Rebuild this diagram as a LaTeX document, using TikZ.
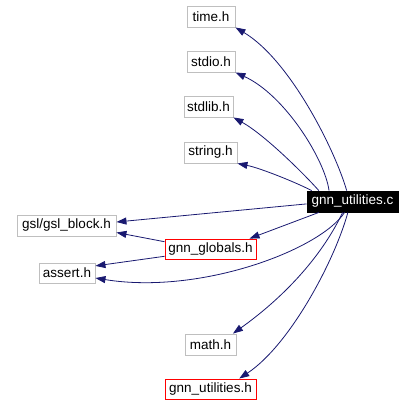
\documentclass[tikz,border=0pt]{standalone}
\usepackage{fontspec}
\setmainfont{Liberation Sans}
\usetikzlibrary{arrows.meta}
\definecolor{depblue}{HTML}{191970}
\definecolor{boxgrey}{HTML}{BFBFBF}
\definecolor{boxred}{HTML}{FF0000}

\begin{document}
\begin{tikzpicture}[x=1pt,y=-1pt]
    \tikzstyle{hdr}=[draw=boxgrey,line width=0.9pt,minimum height=21pt,inner sep=0pt,font=\fontsize{13.5}{16}\selectfont]
    \tikzstyle{own}=[hdr,draw=boxred,minimum width=91pt,minimum height=20pt]
    \tikzstyle{dep}=[depblue,line width=0.8pt,-{Triangle[length=10pt,width=7pt]}]
    \useasboundingbox (0,0) rectangle (415,407);
    \node[hdr,minimum width=48pt] (time) at (211,16.5) {time.h};
    \node[hdr,minimum width=48pt] (stdio) at (211,61.5) {stdio.h};
    \node[hdr,minimum width=49pt] (stdlib) at (208.5,106.5) {stdlib.h};
    \node[hdr,minimum width=53pt] (string) at (210.5,152.5) {string.h};
    \node[hdr,draw=black,fill=black,text=white,minimum width=91pt] (src) at (352.5,201.5) {gnn\_utilities.c};
    \node[hdr,minimum width=99pt] (gsl) at (66.5,225.5) {gsl/gsl\_block.h};
    \node[own] (glob) at (210.5,249) {gnn\_globals.h};
    \node[hdr,minimum width=56pt,minimum height=20pt] (assert) at (67,273) {assert.h};
    \node[hdr,minimum width=51pt] (math) at (210.5,344.5) {math.h};
    \node[own] (uh) at (210.5,389) {gnn\_utilities.h};
    \draw[dep] (src.118) .. controls (335,150) and (290,60) .. (time.south east);
    \draw[dep] (src.155) .. controls (325,160) and (285,95) .. (stdio.south east);
    \draw[dep] (src.162) .. controls (305,175) and (265,135) .. (stdlib.south east);
    \draw[dep] (src.165) .. controls (295,182) and (260,168) .. (string.south east);
    \draw[dep] (src.183) -- (gsl.4);
    \draw[dep] (src.198) -- (glob.15);
    \draw[dep] (glob.171) -- (gsl.-8);
    \draw[dep] (glob.189) -- (assert.14);
    \draw[dep] (src.234) .. controls (320,250) and (200,295) .. (assert.-10);
    \draw[dep] (src.228) .. controls (320,260) and (280,300) .. (math.26);
    \draw[dep] (src.247) .. controls (335,260) and (290,345) .. (uh.20);
\end{tikzpicture}
\end{document}
